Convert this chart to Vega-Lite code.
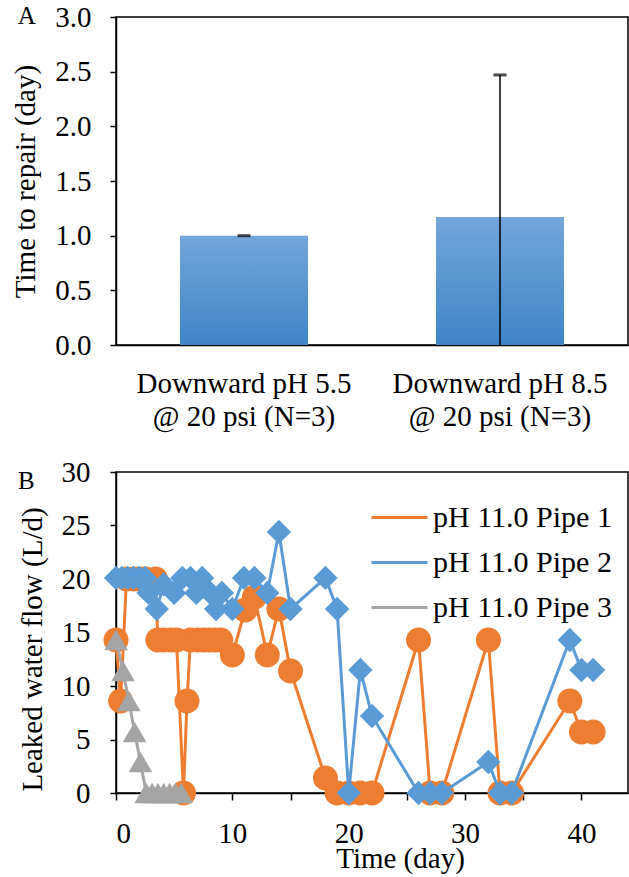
{
  "$schema": "https://vega.github.io/schema/vega-lite/v6.json",
  "padding": {"left": 11, "top": 2, "right": 0, "bottom": 0},
  "resolve": {
    "scale": {"color": "independent", "fill": "independent", "shape": "independent", "size": "independent"},
    "legend": {"color": "independent", "fill": "independent", "shape": "independent", "size": "independent"}
  },
  "config": {
    "font": "Liberation Serif",
    "view": {"stroke": "black", "strokeWidth": 1.5},
    "concat": {"spacing": 25},
    "axis": {
      "grid": false, "domainColor": "black", "domainWidth": 1.5,
      "tickColor": "black", "tickWidth": 1.5,
      "labelColor": "black", "titleColor": "black",
      "labelFont": "Liberation Serif", "titleFont": "Liberation Serif",
      "labelFontSize": 29, "titleFontSize": 29, "titleFontWeight": "normal", "labelLimit": 0
    },
    "legend": {"labelFont": "Liberation Serif", "labelFontSize": 30, "labelColor": "black", "labelLimit": 0},
    "title": {"font": "Liberation Serif", "fontSize": 25, "fontWeight": "normal", "color": "black"}
  },
  "vconcat": [
    {
      "width": 512, "height": 328,
      "title": {"text": "A", "anchor": "start", "frame": "bounds", "dx": 6, "offset": -26},
      "data": {"values": [
        {"group": "Downward pH 5.5|@ 20 psi (N=3)", "mean": 1.0, "lo": 1.0, "hi": 1.0},
        {"group": "Downward pH 8.5|@ 20 psi (N=3)", "mean": 1.17, "lo": 0, "hi": 2.47}
      ]},
      "encoding": {
        "x": {"field": "group", "type": "nominal", "sort": null,
          "scale": {"paddingInner": 0.5, "paddingOuter": 0.25},
          "axis": {"title": null, "labelAngle": 0, "labelExpr": "split(datum.label, '|')",
            "ticks": false, "labelPadding": 24, "labelLineHeight": 33}}
      },
      "layer": [
        {
          "mark": {"type": "bar", "fill": {"gradient": "linear", "x1": 0, "y1": 0, "x2": 0, "y2": 1,
            "stops": [{"offset": 0, "color": "#73A6DC"}, {"offset": 1, "color": "#3E85C8"}]}},
          "encoding": {
            "y": {"field": "mean", "type": "quantitative", "scale": {"domain": [0, 3]},
              "axis": {"title": "Time to repair (day)", "values": [0, 0.5, 1, 1.5, 2, 2.5, 3],
                "format": ".1f", "tickSize": 6, "labelPadding": 19, "titlePadding": 14}}
          }
        },
        {
          "mark": {"type": "rule", "color": "black", "strokeWidth": 1.5},
          "encoding": {"y": {"field": "lo", "type": "quantitative"}, "y2": {"field": "hi"}}
        },
        {
          "mark": {"type": "tick", "color": "black", "thickness": 3, "size": 13},
          "encoding": {"y": {"field": "hi", "type": "quantitative"}}
        }
      ]
    },
    {
      "width": 512, "height": 321,
      "title": {"text": "B", "anchor": "start", "frame": "bounds", "dx": 0, "offset": -36},
      "data": {"values": [
        {"pipe": "pH 11.0 Pipe 1", "day": 0, "flow": 14.3},
        {"pipe": "pH 11.0 Pipe 1", "day": 0.4, "flow": 8.6},
        {"pipe": "pH 11.0 Pipe 1", "day": 0.9, "flow": 20.0},
        {"pipe": "pH 11.0 Pipe 1", "day": 1.5, "flow": 20.0},
        {"pipe": "pH 11.0 Pipe 1", "day": 2.0, "flow": 20.0},
        {"pipe": "pH 11.0 Pipe 1", "day": 2.5, "flow": 20.0},
        {"pipe": "pH 11.0 Pipe 1", "day": 3.4, "flow": 20.0},
        {"pipe": "pH 11.0 Pipe 1", "day": 3.6, "flow": 14.3},
        {"pipe": "pH 11.0 Pipe 1", "day": 4.1, "flow": 14.3},
        {"pipe": "pH 11.0 Pipe 1", "day": 4.7, "flow": 14.3},
        {"pipe": "pH 11.0 Pipe 1", "day": 5.2, "flow": 14.3},
        {"pipe": "pH 11.0 Pipe 1", "day": 5.8, "flow": 0},
        {"pipe": "pH 11.0 Pipe 1", "day": 6.1, "flow": 8.6},
        {"pipe": "pH 11.0 Pipe 1", "day": 6.4, "flow": 14.3},
        {"pipe": "pH 11.0 Pipe 1", "day": 7.0, "flow": 14.3},
        {"pipe": "pH 11.0 Pipe 1", "day": 7.5, "flow": 14.3},
        {"pipe": "pH 11.0 Pipe 1", "day": 8.0, "flow": 14.3},
        {"pipe": "pH 11.0 Pipe 1", "day": 8.5, "flow": 14.3},
        {"pipe": "pH 11.0 Pipe 1", "day": 9.0, "flow": 14.3},
        {"pipe": "pH 11.0 Pipe 1", "day": 10.0, "flow": 12.9},
        {"pipe": "pH 11.0 Pipe 1", "day": 11.1, "flow": 17.1},
        {"pipe": "pH 11.0 Pipe 1", "day": 11.9, "flow": 18.3},
        {"pipe": "pH 11.0 Pipe 1", "day": 13.0, "flow": 12.9},
        {"pipe": "pH 11.0 Pipe 1", "day": 14.0, "flow": 17.2},
        {"pipe": "pH 11.0 Pipe 1", "day": 15.0, "flow": 11.4},
        {"pipe": "pH 11.0 Pipe 1", "day": 18.0, "flow": 1.4},
        {"pipe": "pH 11.0 Pipe 1", "day": 19.0, "flow": 0},
        {"pipe": "pH 11.0 Pipe 1", "day": 20.0, "flow": 0},
        {"pipe": "pH 11.0 Pipe 1", "day": 21.0, "flow": 0},
        {"pipe": "pH 11.0 Pipe 1", "day": 22.0, "flow": 0},
        {"pipe": "pH 11.0 Pipe 1", "day": 26.0, "flow": 14.3},
        {"pipe": "pH 11.0 Pipe 1", "day": 27.0, "flow": 0},
        {"pipe": "pH 11.0 Pipe 1", "day": 28.0, "flow": 0},
        {"pipe": "pH 11.0 Pipe 1", "day": 32.0, "flow": 14.3},
        {"pipe": "pH 11.0 Pipe 1", "day": 33.0, "flow": 0},
        {"pipe": "pH 11.0 Pipe 1", "day": 34.0, "flow": 0},
        {"pipe": "pH 11.0 Pipe 1", "day": 39.0, "flow": 8.6},
        {"pipe": "pH 11.0 Pipe 1", "day": 40.0, "flow": 5.7},
        {"pipe": "pH 11.0 Pipe 1", "day": 41.0, "flow": 5.7},
        {"pipe": "pH 11.0 Pipe 2", "day": 0, "flow": 20.1},
        {"pipe": "pH 11.0 Pipe 2", "day": 0.5, "flow": 20.1},
        {"pipe": "pH 11.0 Pipe 2", "day": 1.0, "flow": 20.1},
        {"pipe": "pH 11.0 Pipe 2", "day": 1.5, "flow": 20.1},
        {"pipe": "pH 11.0 Pipe 2", "day": 2.0, "flow": 20.1},
        {"pipe": "pH 11.0 Pipe 2", "day": 2.5, "flow": 20.1},
        {"pipe": "pH 11.0 Pipe 2", "day": 2.8, "flow": 18.7},
        {"pipe": "pH 11.0 Pipe 2", "day": 3.5, "flow": 17.2},
        {"pipe": "pH 11.0 Pipe 2", "day": 4.1, "flow": 19.5},
        {"pipe": "pH 11.0 Pipe 2", "day": 5.0, "flow": 18.7},
        {"pipe": "pH 11.0 Pipe 2", "day": 5.7, "flow": 20.1},
        {"pipe": "pH 11.0 Pipe 2", "day": 6.4, "flow": 20.1},
        {"pipe": "pH 11.0 Pipe 2", "day": 6.9, "flow": 18.7},
        {"pipe": "pH 11.0 Pipe 2", "day": 7.4, "flow": 20.1},
        {"pipe": "pH 11.0 Pipe 2", "day": 8.1, "flow": 18.7},
        {"pipe": "pH 11.0 Pipe 2", "day": 8.6, "flow": 17.2},
        {"pipe": "pH 11.0 Pipe 2", "day": 9.1, "flow": 18.7},
        {"pipe": "pH 11.0 Pipe 2", "day": 10.0, "flow": 17.2},
        {"pipe": "pH 11.0 Pipe 2", "day": 11.0, "flow": 20.1},
        {"pipe": "pH 11.0 Pipe 2", "day": 11.9, "flow": 20.1},
        {"pipe": "pH 11.0 Pipe 2", "day": 13.0, "flow": 18.7},
        {"pipe": "pH 11.0 Pipe 2", "day": 14.0, "flow": 24.4},
        {"pipe": "pH 11.0 Pipe 2", "day": 15.0, "flow": 17.2},
        {"pipe": "pH 11.0 Pipe 2", "day": 18.0, "flow": 20.1},
        {"pipe": "pH 11.0 Pipe 2", "day": 19.0, "flow": 17.2},
        {"pipe": "pH 11.0 Pipe 2", "day": 20.0, "flow": 0},
        {"pipe": "pH 11.0 Pipe 2", "day": 21.0, "flow": 11.5},
        {"pipe": "pH 11.0 Pipe 2", "day": 22.0, "flow": 7.2},
        {"pipe": "pH 11.0 Pipe 2", "day": 26.0, "flow": 0},
        {"pipe": "pH 11.0 Pipe 2", "day": 27.0, "flow": 0},
        {"pipe": "pH 11.0 Pipe 2", "day": 28.0, "flow": 0},
        {"pipe": "pH 11.0 Pipe 2", "day": 32.0, "flow": 2.9},
        {"pipe": "pH 11.0 Pipe 2", "day": 33.0, "flow": 0},
        {"pipe": "pH 11.0 Pipe 2", "day": 34.0, "flow": 0},
        {"pipe": "pH 11.0 Pipe 2", "day": 39.0, "flow": 14.3},
        {"pipe": "pH 11.0 Pipe 2", "day": 40.0, "flow": 11.5},
        {"pipe": "pH 11.0 Pipe 2", "day": 41.0, "flow": 11.5},
        {"pipe": "pH 11.0 Pipe 3", "day": 0, "flow": 14.3},
        {"pipe": "pH 11.0 Pipe 3", "day": 0.6, "flow": 11.4},
        {"pipe": "pH 11.0 Pipe 3", "day": 1.1, "flow": 8.6},
        {"pipe": "pH 11.0 Pipe 3", "day": 1.6, "flow": 5.7},
        {"pipe": "pH 11.0 Pipe 3", "day": 2.1, "flow": 2.9},
        {"pipe": "pH 11.0 Pipe 3", "day": 2.6, "flow": 0},
        {"pipe": "pH 11.0 Pipe 3", "day": 3.1, "flow": 0},
        {"pipe": "pH 11.0 Pipe 3", "day": 3.6, "flow": 0},
        {"pipe": "pH 11.0 Pipe 3", "day": 4.1, "flow": 0},
        {"pipe": "pH 11.0 Pipe 3", "day": 4.6, "flow": 0},
        {"pipe": "pH 11.0 Pipe 3", "day": 5.1, "flow": 0},
        {"pipe": "pH 11.0 Pipe 3", "day": 5.6, "flow": 0}
      ]},
      "encoding": {
        "x": {"field": "day", "type": "quantitative", "scale": {"domain": [0, 44], "nice": false},
          "axis": {"title": "Time (day)", "values": [0, 5, 10, 15, 20, 25, 30, 35, 40],
            "labelExpr": "datum.value % 10 === 0 ? datum.label : ''",
            "tickSize": 7, "labelPadding": 19, "titlePadding": -4, "titleX": 284}},
        "y": {"field": "flow", "type": "quantitative", "scale": {"domain": [0, 30]},
          "axis": {"title": "Leaked water flow (L/d)", "values": [0, 5, 10, 15, 20, 25, 30],
            "tickSize": 6, "labelPadding": 20, "titlePadding": 14, "titleY": 177}}
      },
      "layer": [
        {
          "transform": [{"filter": "datum.pipe === 'pH 11.0 Pipe 1'"}],
          "mark": {"type": "line", "strokeWidth": 3},
          "encoding": {"color": {"field": "pipe", "type": "nominal",
            "scale": {"domain": ["pH 11.0 Pipe 1", "pH 11.0 Pipe 2", "pH 11.0 Pipe 3"], "range": ["#ED7D31", "#5B9BD5", "#A5A5A5"]},
            "legend": {"title": null, "orient": "top-right", "offset": 16, "symbolType": "stroke",
              "symbolSize": 3136, "symbolStrokeWidth": 3, "labelOffset": 4, "rowPadding": 0, "padding": 0}}}
        },
        {
          "transform": [{"filter": "datum.pipe === 'pH 11.0 Pipe 1'"}],
          "mark": {"type": "point", "filled": true, "opacity": 1},
          "encoding": {
            "fill": {"field": "pipe", "type": "nominal",
              "scale": {"domain": ["pH 11.0 Pipe 1", "pH 11.0 Pipe 2", "pH 11.0 Pipe 3", "none"], "range": ["#ED7D31", "#5B9BD5", "#A5A5A5", "#000000"]},
              "legend": {"title": null, "orient": "none", "legendX": 273, "legendY": 16, "symbolSize": 560,
                "values": ["pH 11.0 Pipe 1", "pH 11.0 Pipe 2", "pH 11.0 Pipe 3"],
                "labelOpacity": 0, "labelOffset": 4, "rowPadding": 0, "padding": 0, "symbolStrokeWidth": 0}},
            "shape": {"field": "pipe", "type": "nominal",
              "scale": {"domain": ["pH 11.0 Pipe 1", "pH 11.0 Pipe 2", "pH 11.0 Pipe 3", "none"], "range": ["circle", "diamond", "triangle-up", "square"]}},
            "size": {"field": "pipe", "type": "nominal",
              "scale": {"domain": ["pH 11.0 Pipe 1", "pH 11.0 Pipe 2", "pH 11.0 Pipe 3", "none"], "range": [625, 530, 530, 100]}, "legend": null}
          }
        },
        {
          "transform": [{"filter": "datum.pipe === 'pH 11.0 Pipe 2'"}],
          "mark": {"type": "line", "strokeWidth": 3},
          "encoding": {"color": {"field": "pipe", "type": "nominal"}}
        },
        {
          "transform": [{"filter": "datum.pipe === 'pH 11.0 Pipe 2'"}],
          "mark": {"type": "point", "filled": true, "opacity": 1},
          "encoding": {"fill": {"field": "pipe", "type": "nominal"}, "shape": {"field": "pipe", "type": "nominal"}, "size": {"field": "pipe", "type": "nominal", "legend": null}}
        },
        {
          "transform": [{"filter": "datum.pipe === 'pH 11.0 Pipe 3'"}],
          "mark": {"type": "line", "strokeWidth": 3},
          "encoding": {"color": {"field": "pipe", "type": "nominal"}}
        },
        {
          "transform": [{"filter": "datum.pipe === 'pH 11.0 Pipe 3'"}],
          "mark": {"type": "point", "filled": true, "opacity": 1},
          "encoding": {"fill": {"field": "pipe", "type": "nominal"}, "shape": {"field": "pipe", "type": "nominal"}, "size": {"field": "pipe", "type": "nominal", "legend": null}}
        }
      ]
    }
  ]
}
